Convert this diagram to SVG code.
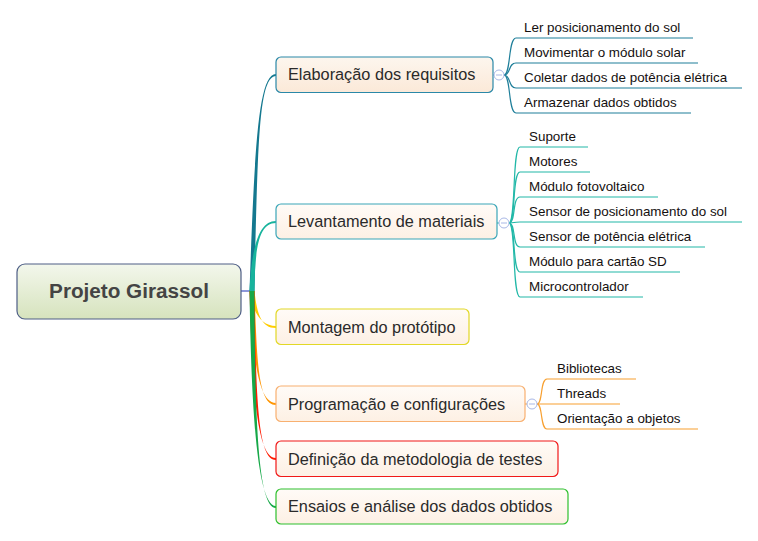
<svg xmlns="http://www.w3.org/2000/svg" width="758" height="541" viewBox="0 0 758 541">
<defs>
<linearGradient id="gRoot" x1="0" y1="0" x2="0" y2="1"><stop offset="0" stop-color="#f3f7ec"/><stop offset="1" stop-color="#d6e3bd"/></linearGradient>
<linearGradient id="gNode" x1="0" y1="0" x2="0" y2="1"><stop offset="0" stop-color="#fffbf7"/><stop offset="1" stop-color="#fdf0e4"/></linearGradient>
<linearGradient id="gNode1" x1="0" y1="0" x2="0" y2="1"><stop offset="0" stop-color="#fdf6ee"/><stop offset="1" stop-color="#fbe9d8"/></linearGradient>
</defs>
<style>
.topic{font-family:"Liberation Sans",Arial,sans-serif;font-size:16.3px;fill:#2a2a2a}
.sub{font-family:"Liberation Sans",Arial,sans-serif;font-size:13.4px;fill:#141010}
.box{stroke-width:1.2}
.sl{fill:none;stroke-width:1.2}
.col{fill:#fff;stroke:#a9b8e6;stroke-width:1}
</style>
<rect width="758" height="541" fill="#fff"/>
<g id="connectors">
<line x1="241" y1="291" x2="252" y2="291" stroke="#4252c0" stroke-width="1.2"/>
<path d="M249.5,291 C254.5,150 258,73.8 276,74 L276,76 C258,76.2 258,150 254.5,291Z" fill="#14788f"/>
<path d="M249.5,291 C251.5,250 258,220.8 276,221 L276,223 C258,223.2 255,250 254.5,291Z" fill="#17b39c"/>
<path d="M249.5,291 C253.5,315 262,325.8 276,326 L276,328 C262,328.2 257,315 254.5,291Z" fill="#ffcc00"/>
<path d="M249.5,291 C253.5,360 258,402.8 276,403 L276,405 C258,405.2 257,360 254.5,291Z" fill="#ff9500"/>
<path d="M249.5,291 C252.5,400 258,457.8 276,458 L276,460 C258,460.2 256,400 254.5,291Z" fill="#ff1a00"/>
<path d="M249.5,291 C251.5,420 258,505.8 276,506 L276,508 C258,508.2 255,420 254.5,291Z" fill="#16a848"/>
<g stroke="#1f7f9a" class="sl">
<line x1="493" y1="75" x2="494" y2="75"/>
<path d="M504,75 C511,75 508,38 516,38 L693,38"/>
<path d="M504,75 C511,75 508,63 516,63 L698,63"/>
<path d="M504,75 C511,75 508,88 516,88 L742,88"/>
<path d="M504,75 C511,75 508,113 516,113 L691,113"/>
</g>
<g stroke="#22b8a8" class="sl">
<line x1="497" y1="223" x2="499" y2="223"/>
<path d="M509,223 C516,223 512,147 520,147 L588,147"/>
<path d="M509,223 C516,223 512,172 520,172 L590,172"/>
<path d="M509,223 C516,223 512,197 520,197 L658,197"/>
<path d="M509,223 C516,223 512,222 520,222 L742,222"/>
<path d="M509,223 C516,223 512,247 520,247 L705,247"/>
<path d="M509,223 C516,223 512,272 520,272 L680,272"/>
<path d="M509,223 C516,223 512,297 520,297 L643,297"/>
</g>
<g stroke="#f8a030" class="sl">
<line x1="525" y1="404" x2="527" y2="404"/>
<path d="M537,404 C543,404 540,379 547,379 L636,379"/>
<path d="M537,404 C543,404 540,404 547,404 L620,404"/>
<path d="M537,404 C543,404 540,429 547,429 L698,429"/>
</g>
</g>
<g id="root">
<rect x="17" y="264" width="224" height="55" rx="8" fill="url(#gRoot)" stroke="#4e5e86" stroke-width="1.2"/>
<text x="129" y="298" text-anchor="middle" font-family="Liberation Sans,Arial,sans-serif" font-weight="bold" font-size="20.7" fill="#444">Projeto Girassol</text>
</g>
<g id="n1">
<rect class="box" x="276" y="57" width="217" height="35.5" rx="5" fill="url(#gNode1)" stroke="#2a88a8"/>
<text class="topic" x="288" y="80">Elaboração dos requisitos</text>
<circle class="col" cx="499" cy="75" r="5"/><line x1="496" y1="75" x2="502" y2="75" stroke="#a9b8e6"/>
</g>
<g id="n1a"><text class="sub" x="524" y="32">Ler posicionamento do sol</text></g>
<g id="n1b"><text class="sub" x="524" y="57">Movimentar o módulo solar</text></g>
<g id="n1c"><text class="sub" x="524" y="82">Coletar dados de potência elétrica</text></g>
<g id="n1d"><text class="sub" x="524" y="107">Armazenar dados obtidos</text></g>
<g id="n2">
<rect class="box" x="276" y="204" width="221" height="35" rx="5" fill="url(#gNode)" stroke="#3aa6b8"/>
<text class="topic" x="288" y="227">Levantamento de materiais</text>
<circle class="col" cx="504" cy="223" r="5"/><line x1="501" y1="223" x2="507" y2="223" stroke="#a9b8e6"/>
</g>
<g id="n2a"><text class="sub" x="529" y="141">Suporte</text></g>
<g id="n2b"><text class="sub" x="529" y="166">Motores</text></g>
<g id="n2c"><text class="sub" x="529" y="191">Módulo fotovoltaico</text></g>
<g id="n2d"><text class="sub" x="529" y="216">Sensor de posicionamento do sol</text></g>
<g id="n2e"><text class="sub" x="529" y="241">Sensor de potência elétrica</text></g>
<g id="n2f"><text class="sub" x="529" y="266">Módulo para cartão SD</text></g>
<g id="n2g"><text class="sub" x="529" y="291">Microcontrolador</text></g>
<g id="n3">
<rect class="box" x="276" y="309" width="193" height="35.5" rx="5" fill="url(#gNode)" stroke="#e2d826"/>
<text class="topic" x="288" y="332.5">Montagem do protótipo</text>
</g>
<g id="n4">
<rect class="box" x="276" y="386" width="249" height="35.5" rx="5" fill="url(#gNode)" stroke="#f8b070"/>
<text class="topic" x="288" y="409.5">Programação e configurações</text>
<circle class="col" cx="532" cy="404" r="5"/><line x1="529" y1="404" x2="535" y2="404" stroke="#a9b8e6"/>
</g>
<g id="n4a"><text class="sub" x="557" y="373">Bibliotecas</text></g>
<g id="n4b"><text class="sub" x="557" y="398">Threads</text></g>
<g id="n4c"><text class="sub" x="557" y="423">Orientação a objetos</text></g>
<g id="n5">
<rect class="box" x="276" y="441" width="282" height="35.5" rx="5" fill="url(#gNode)" stroke="#f01818"/>
<text class="topic" x="288" y="464.5">Definição da metodologia de testes</text>
</g>
<g id="n6">
<rect class="box" x="276" y="489" width="292" height="35" rx="5" fill="url(#gNode)" stroke="#2ec02e"/>
<text class="topic" x="288" y="512">Ensaios e análise dos dados obtidos</text>
</g>
</svg>
